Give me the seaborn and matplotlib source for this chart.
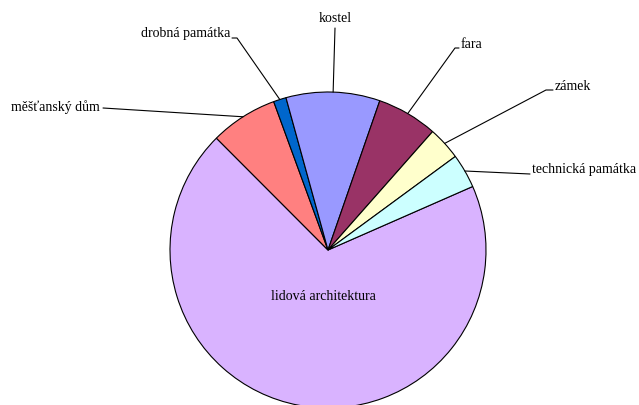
import matplotlib
matplotlib.use('Agg')
import matplotlib.pyplot as plt
import seaborn as sns
import numpy as np

# ---- data (percent shares) ----
categories = ['lidová architektura', 'měšťanský dům', 'drobná památka', 'kostel',
              'fara', 'zámek', 'technická památka']
values = [69.1, 6.9, 1.3, 9.6, 6.2, 3.4, 3.5]
colors = ['#D9B3FF', '#FF8080', '#0066CC', '#9999FF', '#993366', '#FFFFCC', '#CCFFFF']

sns.set_theme(style='white')
plt.rcParams['font.family'] = ['Liberation Serif', 'DejaVu Serif']

W, H = 639, 405
cx, cy, R = 328, 250, 158  # pie centre / radius in pixels (layout)

fig = plt.figure(figsize=(W / 100, H / 100), dpi=100)
ax = fig.add_axes([0, 0, 1, 1])

wedges, _ = ax.pie(values, colors=colors, startangle=23.7, counterclock=False,
                   radius=1, center=(0, 0),
                   wedgeprops=dict(edgecolor='black', linewidth=0.8))
ax.set_aspect('auto')
ax.set_xlim(-cx / R, (W - cx) / R)
ax.set_ylim(-(H - cy) / R, cy / R)
ax.axis('off')


def px(x, y):
    return (x - cx) / R, (cy - y) / R


# label layout: text anchor (pixels), alignment, elbow point, tick end
layout = {
    'měšťanský dům': dict(t=(100, 107), ha='right', elbow=(103, 108), tick=None),
    'drobná památka': dict(t=(230, 34), ha='right', elbow=(237, 38), tick=(232, 38)),
    'kostel': dict(t=(335, 18), ha='center', elbow=(335, 28), tick=None),
    'fara': dict(t=(461, 45), ha='left', elbow=(455, 48), tick=(459, 48)),
    'zámek': dict(t=(555, 87), ha='left', elbow=(546, 90), tick=(553, 90)),
    'technická památka': dict(t=(532, 170), ha='left', elbow=(530, 174), tick=None),
    'lidová architektura': dict(t=(323, 297), ha='center', elbow=None, tick=None),
}

for w, name in zip(wedges, categories):
    L = layout[name]
    tx, ty = px(*L['t'])
    ax.text(tx, ty, name, ha=L['ha'], va='center', fontsize=10, color='black')
    if L['elbow'] is not None:
        mid = np.deg2rad((w.theta1 + w.theta2) / 2)
        ex, ey = np.cos(mid), np.sin(mid)
        bx, by = px(*L['elbow'])
        xs, ys = [ex, bx], [ey, by]
        if L['tick'] is not None:
            kx, ky = px(*L['tick'])
            xs.append(kx)
            ys.append(ky)
        ax.plot(xs, ys, color='black', linewidth=0.8)

fig.savefig('out.png', dpi=100, facecolor='white')
